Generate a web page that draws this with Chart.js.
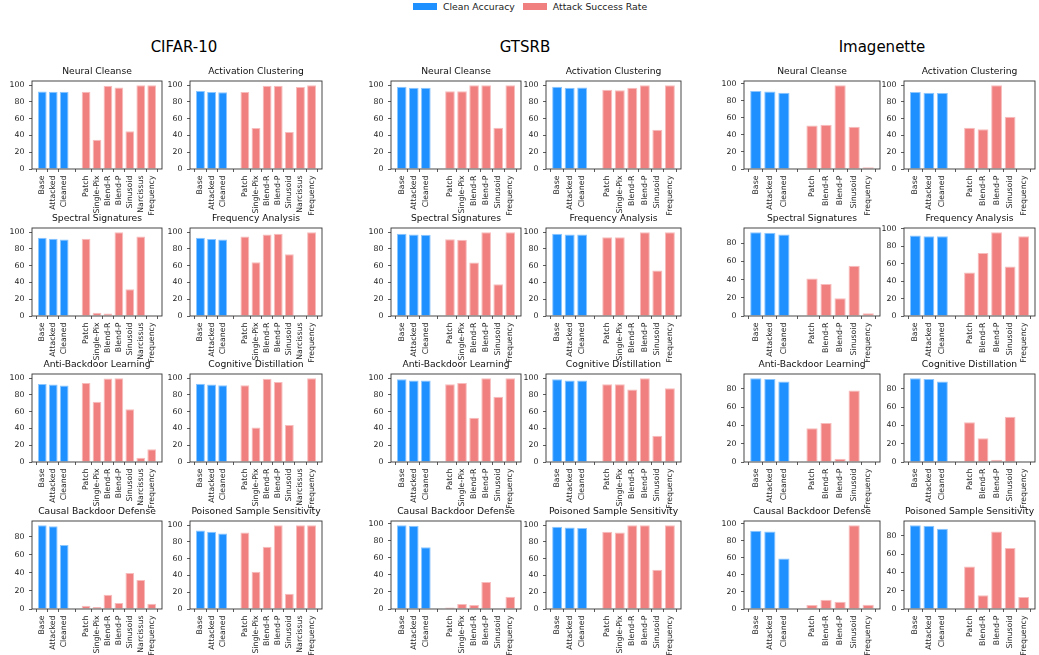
<!DOCTYPE html>
<html>
<head>
<meta charset="utf-8">
<script src="https://cdn.jsdelivr.net/npm/chart.js@4/dist/chart.umd.min.js"></script>
<style>
  html, body { margin: 0; padding: 0; background: #fff; }
  body { width: 1039px; height: 655px; position: relative; overflow: hidden;
         font-family: "DejaVu Sans", sans-serif; color: #000; }
  canvas { position: absolute; }
  .group-title { position: absolute; font-size: 15px; transform: translateX(-50%); white-space: nowrap; }
  .legend { position: absolute; top: 1px; left: 413px; display: flex; align-items: center;
            font-size: 9.3px; white-space: nowrap; color: #222; }
  .legend .sw { display: inline-block; width: 24px; height: 7px; margin-right: 6px; }
  .legend .item { display: flex; align-items: center; margin-right: 8px; }
</style>
</head>
<body>
<div class="legend">
  <span class="item"><span class="sw" style="background:#1E90FF"></span>Clean Accuracy</span>
  <span class="item"><span class="sw" style="background:#F08080"></span>Attack Success Rate</span>
</div>
<div class="group-title" style="left:184px;top:38px">CIFAR-10</div>
<div class="group-title" style="left:525px;top:38px">GTSRB</div>
<div class="group-title" style="left:882px;top:38px">Imagenette</div>

<script>
// Defense methods, in panel order (row by row, two per row)
const defenses = [
  "Neural Cleanse", "Activation Clustering",
  "Spectral Signatures", "Frequency Analysis",
  "Anti-Backdoor Learning", "Cognitive Distillation",
  "Causal Backdoor Defense", "Poisoned Sample Sensitivity"
];
const cleanLabels = ["Base", "Attacked", "Cleaned"];

// CIFAR-10
const cifarAttacks = ["Patch", "Single-Pix", "Blend-R", "Blend-P", "Sinusoid", "Narcissus", "Frequency"];
const cifarClean = [
  [92.5, 92.0, 92.0], [93.2, 91.8, 91.7],
  [93.3, 92.1, 91.3], [93.3, 92.0, 91.3],
  [93.2, 92.5, 91.3], [93.3, 92.5, 91.7],
  [92.7, 91.6, 70.8], [93.7, 92.1, 90.2]
];
const cifarASR = [
  [92.0, 35.0, 99.3, 97.0, 45.0, 99.9, 99.9],
  [92.0, 49.0, 99.3, 99.3, 44.0, 97.8, 100.0],
  [92.1, 3.9, 3.1, 100.0, 31.9, 94.9, 0.0],
  [94.9, 64.2, 97.2, 98.0, 73.6, 0.0, 100.0],
  [94.4, 71.8, 99.6, 100.0, 63.0, 5.2, 15.1],
  [91.7, 41.3, 99.2, 95.6, 44.0, 0.0, 100.0],
  [3.6, 2.2, 15.7, 6.6, 39.8, 32.1, 5.8],
  [91.3, 44.5, 74.4, 100.0, 18.1, 100.0, 100.0]
];

// GTSRB
const gtsrbAttacks = ["Patch", "Single-Pix", "Blend-R", "Blend-P", "Sinusoid", "Frequency"];
const gtsrbClean = [
  [98.0, 96.9, 96.9], [98.0, 97.0, 97.2],
  [98.0, 97.2, 96.9], [98.0, 97.2, 97.2],
  [98.8, 97.2, 97.2], [98.8, 97.2, 97.2],
  [98.4, 97.7, 72.5], [98.0, 97.2, 96.5]
];
const gtsrbASR = [
  [92.9, 92.9, 100.0, 100.0, 49.2, 100.0],
  [94.5, 94.0, 97.0, 100.0, 46.9, 100.0],
  [91.7, 90.9, 63.8, 100.0, 37.8, 100.0],
  [94.0, 94.0, 0.8, 100.0, 54.3, 100.0],
  [92.9, 94.4, 52.8, 100.0, 77.8, 100.0],
  [92.9, 92.9, 86.5, 100.0, 31.3, 88.0],
  [1.9, 5.8, 4.7, 31.8, 0.0, 14.3],
  [92.1, 91.3, 100.0, 100.0, 46.9, 100.0]
];

// Imagenette
const imagenetteAttacks = ["Patch", "Blend-R", "Blend-P", "Sinusoid", "Frequency"];
const imagenetteClean = [
  [91.8, 91.0, 89.5], [91.7, 90.9, 90.5],
  [91.9, 91.2, 89.4], [92.0, 91.3, 91.3],
  [91.7, 90.9, 88.0], [91.7, 90.9, 88.0],
  [91.5, 90.7, 59.0], [91.5, 90.8, 87.6]
];
const imagenetteASR = [
  [51.0, 52.1, 98.5, 49.8, 2.0],
  [49.2, 47.2, 99.8, 62.2, 0.8],
  [41.1, 35.0, 19.5, 55.1, 2.9],
  [49.8, 72.0, 95.8, 56.6, 91.3],
  [37.0, 42.8, 3.6, 78.3, 0.4],
  [43.5, 26.1, 2.5, 49.6, 0.4],
  [4.6, 10.8, 8.5, 98.0, 5.0],
  [46.5, 15.1, 84.7, 66.7, 13.0]
];

const FONT = "'DejaVu Sans', sans-serif";
const INK = '#222';
const CLEAN_COLOR = '#1E90FF', CLEAN_EDGE = '#8cc6ff';
const ASR_COLOR = '#F08080', ASR_EDGE = '#f8bcbc';

// Four-sided axes box drawn over the bars
const framePlugin = {
  id: 'frame',
  afterDraw(chart) {
    const { ctx, chartArea: a } = chart;
    ctx.save();
    ctx.strokeStyle = '#333';
    ctx.lineWidth = 0.9;
    ctx.strokeRect(a.left, a.top, a.right - a.left, a.bottom - a.top);
    ctx.restore();
  }
};

const TITLE_H = 20, Y_W = 32, X_H = 60, PAD_R = 8;
const TITLE_SIZE = 9.2, TICK_SIZE = 7.8;

function drawPanel(title, attacks, clean, asr, left, top, w, h) {
  const canvas = document.createElement('canvas');
  const cw = Y_W + w + PAD_R, ch = TITLE_H + h + X_H;
  canvas.width = cw; canvas.height = ch;
  canvas.style.width = cw + 'px'; canvas.style.height = ch + 'px';
  canvas.style.left = (left - Y_W) + 'px';
  canvas.style.top = (top - TITLE_H) + 'px';
  document.body.appendChild(canvas);

  // Slots: 3 clean bars, one empty slot, then the attacks
  const xs = [0, 1, 2].concat(attacks.map((_, j) => 4 + j));
  const labels = cleanLabels.concat(attacks);
  const n = xs[xs.length - 1] + 1;
  const lo = -0.4, hi = n - 1 + 0.4, span = hi - lo;
  const ymax = Math.max(...clean, ...asr) * 1.05;
  const yTicks = [];
  for (let v = 0; v <= ymax + 1e-9; v += 20) yTicks.push(v);

  const lh = TITLE_SIZE * 1.2, padBottom = 3.4;
  new Chart(canvas, {
    type: 'bar',
    data: {
      datasets: [
        { label: 'Clean Accuracy', data: clean.map((v, i) => ({ x: i, y: v })),
          backgroundColor: CLEAN_COLOR, borderColor: CLEAN_EDGE, borderWidth: 1 },
        { label: 'Attack Success Rate', data: asr.map((v, j) => ({ x: 4 + j, y: v })),
          backgroundColor: ASR_COLOR, borderColor: ASR_EDGE, borderWidth: 1 }
      ]
    },
    options: {
      responsive: false, animation: false, devicePixelRatio: 1,
      layout: { padding: { left: 0, right: PAD_R, top: 0, bottom: 0 } },
      datasets: { bar: { grouped: false, categoryPercentage: 1, barPercentage: 0.8 } },
      plugins: {
        legend: { display: false },
        tooltip: { enabled: false },
        title: {
          display: true, text: title, fullSize: false, color: '#111',
          font: { family: FONT, size: TITLE_SIZE, weight: 'normal', lineHeight: 1.2 },
          padding: { top: TITLE_H - lh - padBottom, bottom: padBottom }
        }
      },
      scales: {
        x: {
          type: 'linear', min: lo - 0.05 * span, max: hi + 0.05 * span, offset: false,
          border: { display: false },
          grid: { drawOnChartArea: false, drawTicks: true, tickLength: 3, tickColor: '#333', lineWidth: 0.8 },
          afterBuildTicks: s => { s.ticks = xs.map(v => ({ value: v })); },
          afterFit: s => { s.height = X_H; },
          ticks: {
            autoSkip: false, minRotation: 90, maxRotation: 90, padding: 3.5,
            color: INK, font: { family: FONT, size: TICK_SIZE },
            callback: (v, i) => labels[i]
          }
        },
        y: {
          min: 0, max: ymax,
          border: { display: false },
          grid: { drawOnChartArea: false, drawTicks: true, tickLength: 3, tickColor: '#333', lineWidth: 0.8 },
          afterBuildTicks: s => { s.ticks = yTicks.map(v => ({ value: v })); },
          afterFit: s => { s.width = Y_W; },
          ticks: { padding: 4.5, color: INK, font: { family: FONT, size: TICK_SIZE } }
        }
      }
    },
    plugins: [framePlugin]
  });
}

// Plot-area placement for each dataset's two columns and the four rows
const rowTops = [81, 228, 374, 521];
const plotH = 88;
const groups = [
  { attacks: cifarAttacks, clean: cifarClean, asr: cifarASR, lefts: [32, 190], widths: [130, 132] },
  { attacks: gtsrbAttacks, clean: gtsrbClean, asr: gtsrbASR, lefts: [391, 546], widths: [130, 135] },
  { attacks: imagenetteAttacks, clean: imagenetteClean, asr: imagenetteASR, lefts: [744, 904], widths: [136, 131] }
];

groups.forEach(g => {
  defenses.forEach((name, k) => {
    const row = Math.floor(k / 2), col = k % 2;
    drawPanel(name, g.attacks, g.clean[k], g.asr[k], g.lefts[col], rowTops[row], g.widths[col], plotH);
  });
});
</script>
</body>
</html>
